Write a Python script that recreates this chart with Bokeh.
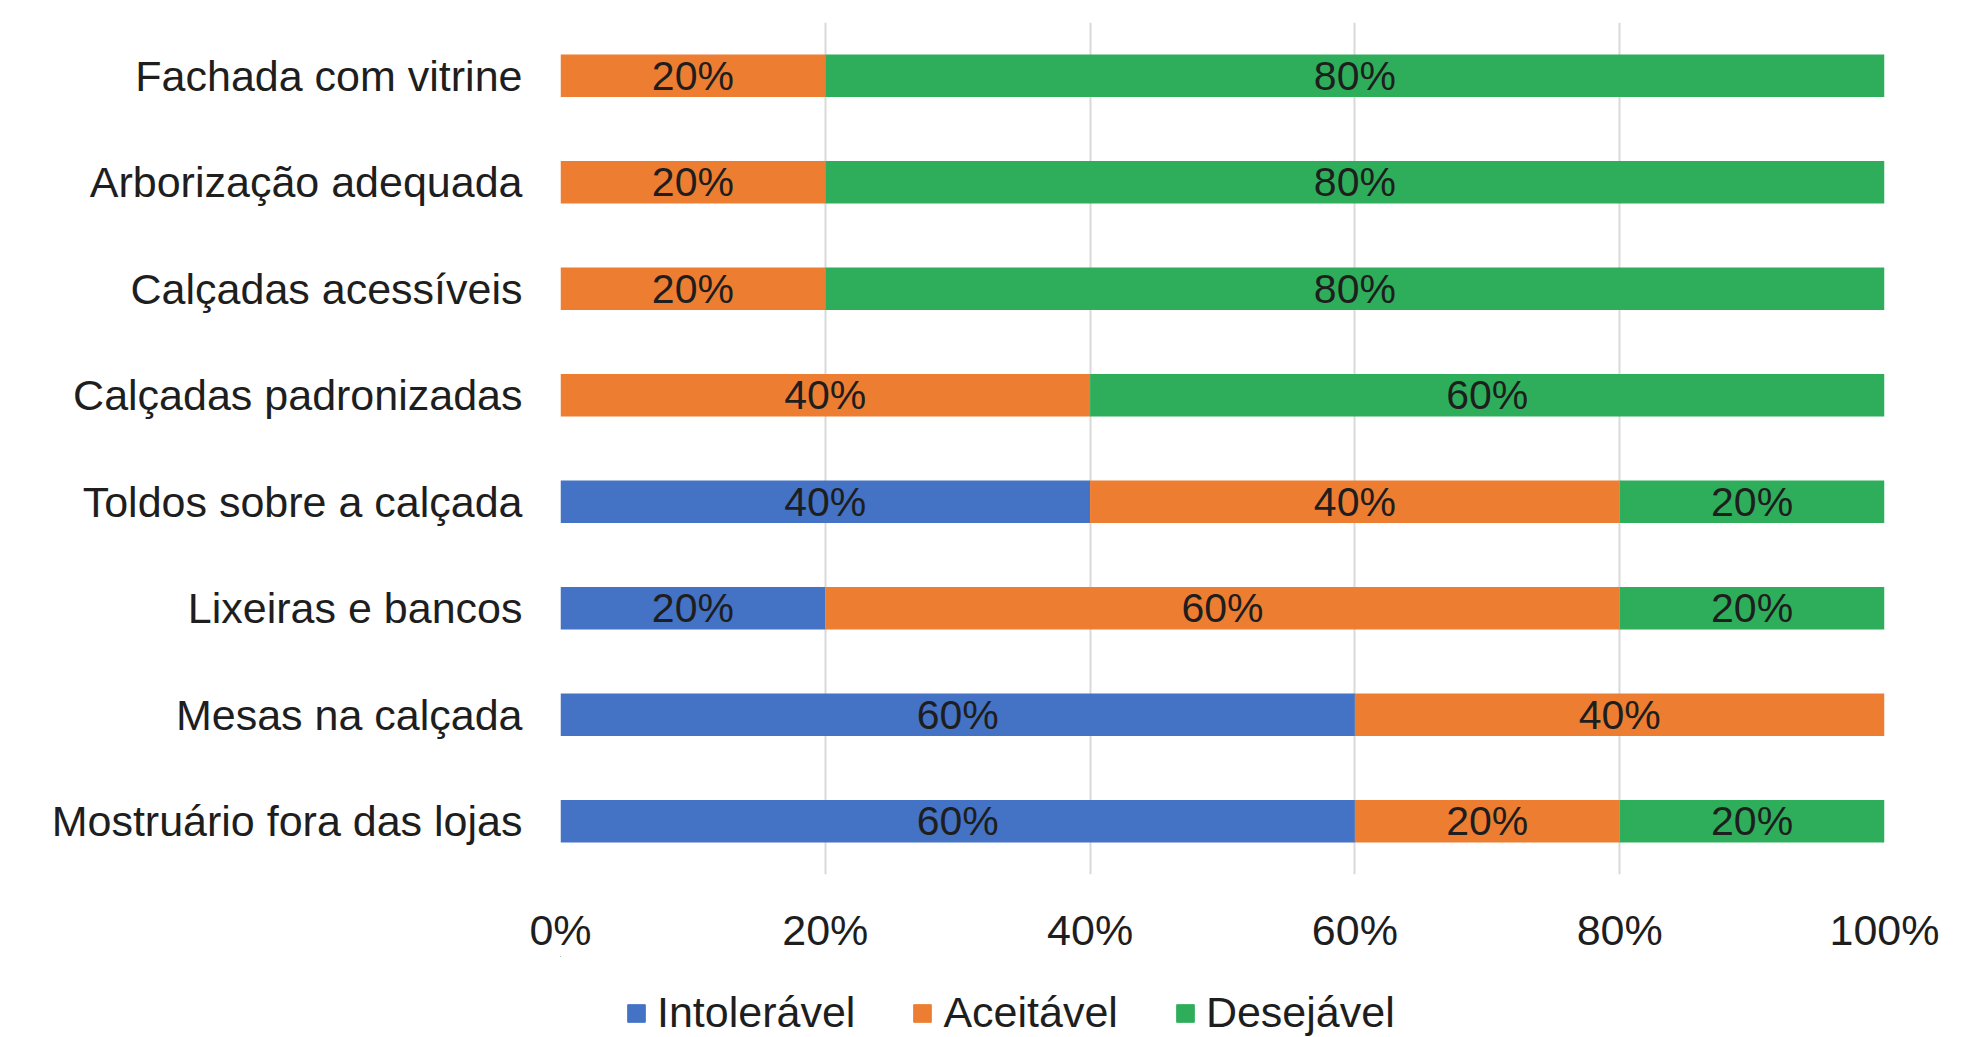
from bokeh.plotting import figure
from bokeh.layouts import column
from bokeh.models import FactorRange, Range1d, FixedTicker, Legend, LegendItem, ColumnDataSource
from bokeh.embed import file_html
from bokeh.resources import INLINE
from bokeh.core.properties import value

categories = ["Fachada com vitrine", "Arborização adequada", "Calçadas acessíveis",
              "Calçadas padronizadas", "Toldos sobre a calçada", "Lixeiras e bancos",
              "Mesas na calçada", "Mostruário fora das lojas"]
intoleravel = [0, 0, 0, 0, 40, 20, 60, 60]
aceitavel = [20, 20, 20, 40, 40, 60, 40, 20]
desejavel = [80, 80, 80, 60, 20, 20, 0, 20]
series_names = ["Intolerável", "Aceitável", "Desejável"]
colors = ["#4472C4", "#ED7D31", "#2EAE5A"]
x_ticks = [0, 20, 40, 60, 80, 100]
x_tick_labels = ["0%", "20%", "40%", "60%", "80%", "100%"]

FONT = "Liberation Sans"
TXT = "#1e1e1e"

p = figure(width=1988, height=956,
           y_range=FactorRange(factors=list(reversed(categories))),
           x_range=Range1d(0, 100),
           output_backend="svg", toolbar_location=None,
           min_border_left=560, min_border_right=104,
           min_border_top=22, min_border_bottom=81)

src = ColumnDataSource(dict(cat=categories, Intolerável=intoleravel,
                            Aceitável=aceitavel, Desejável=desejavel))
renderers = p.hbar_stack(series_names, y="cat", height=0.4, color=colors,
                         source=src, line_color=None)

# labels
lx, ly, lt = [], [], []
series = [intoleravel, aceitavel, desejavel]
for i, c in enumerate(categories):
    start = 0
    for s in series:
        v = s[i]
        if v > 0:
            lx.append(start + v / 2)
            ly.append(c)
            lt.append(f"{v}%")
        start += v
p.text(x=lx, y=ly, text=lt, text_align="center", text_baseline="middle",
       text_font=value(FONT), text_font_size="41px", text_color=TXT)

p.xaxis.ticker = FixedTicker(ticks=x_ticks)
p.xaxis.major_label_overrides = {t: l for t, l in zip(x_ticks, x_tick_labels)}
for ax in (p.xaxis[0], p.yaxis[0]):
    ax.axis_line_color = None
    ax.major_tick_line_color = None
    ax.minor_tick_line_color = None
    ax.major_tick_out = 0
    ax.major_tick_in = 0
    ax.major_label_text_font = FONT
    ax.major_label_text_font_size = "43px"
    ax.major_label_text_color = TXT
p.xaxis.major_label_standoff = 31
p.yaxis.major_label_standoff = 38

p.xgrid.ticker = FixedTicker(ticks=x_ticks)
p.xgrid.grid_line_color = "#D9D9D9"
p.xgrid.grid_line_width = 2
p.ygrid.grid_line_color = None
p.outline_line_color = None

# legend strip (frame is aligned with the main chart's frame)
p2 = figure(width=1988, height=81, x_range=Range1d(0, 1), y_range=Range1d(0, 1),
            output_backend="svg", toolbar_location=None,
            min_border_left=560, min_border_right=104, min_border_top=0, min_border_bottom=0)
p2.axis.visible = False
p2.grid.visible = False
p2.outline_line_color = None
leg_renderers = [p2.hbar(y=[5], left=[0], right=[0], height=1, color=c) for c in colors]
legend = Legend(items=[LegendItem(label=n, renderers=[r]) for n, r in zip(series_names, leg_renderers)],
                location=(65, 0), orientation="horizontal",
                label_text_font=FONT, label_text_font_size="43px", label_text_color=TXT,
                glyph_width=22, glyph_height=22, label_standoff=10, spacing=56,
                padding=0, margin=0, background_fill_alpha=0, border_line_color=None)
p2.add_layout(legend, "center")

layout = column(p, p2, spacing=0)
open("out.html", "w").write(file_html(layout, INLINE))
